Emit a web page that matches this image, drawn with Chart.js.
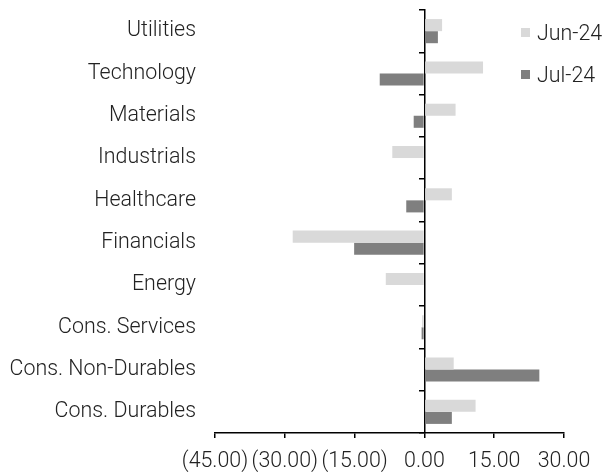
<!DOCTYPE html>
<html>
<head>
<meta charset="utf-8">
<script src="https://cdn.jsdelivr.net/npm/chart.js@4/dist/chart.umd.min.js"></script>
<style>
  html, body { margin: 0; padding: 0; background: #fff; }
  #wrap { position: relative; width: 606px; height: 475px; }
  #legend { position: absolute; left: 521px; top: 11px; font-family: Roboto, "Noto Sans", sans-serif; font-weight: 300; font-size: 21.4px; color: #222; }
  #legend .item { display: flex; align-items: center; height: 42px; }
  #legend .box { width: 9px; height: 9px; margin-right: 7px; }
</style>
</head>
<body>
<div id="wrap">
  <canvas id="c" width="606" height="475"></canvas>
  <div id="legend"></div>
</div>
<script>
const categories = ['Utilities', 'Technology', 'Materials', 'Industrials', 'Healthcare', 'Financials', 'Energy', 'Cons. Services', 'Cons. Non-Durables', 'Cons. Durables'];
const seriesNames = ['Jun-24', 'Jul-24'];
const jun24 = [3.8, 12.6, 6.7, -6.9, 5.9, -28.3, -8.3, -0.5, 6.3, 11.0];
const jul24 = [2.9, -9.6, -2.3, 0.0, -3.9, -15.1, 0.0, -0.6, 24.7, 5.9];
const xTicks = [-45, -30, -15, 0, 15, 30];

const colors = ['#d9d9d9', '#7f7f7f'];
const fontFamily = 'Roboto, "Noto Sans", sans-serif';
const fontSize = 21.4;
const textColor = '#222';

function fmt(v) {
  const s = Math.abs(v).toFixed(2);
  return v < 0 ? '(' + s + ')' : s;
}

// vertical axes: fixed width, no extra label padding at the ends
function fitVertical(width) {
  return (scale) => {
    if (width !== null) scale.width = width;
    scale.paddingTop = 0;
    scale.paddingBottom = 0;
  };
}

const chart = new Chart(document.getElementById('c'), {
  type: 'bar',
  data: {
    labels: categories,
    datasets: [
      { label: seriesNames[0], data: jun24, backgroundColor: colors[0], yAxisID: 'y' },
      { label: seriesNames[1], data: jul24, backgroundColor: colors[1], yAxisID: 'y' }
    ]
  },
  options: {
    indexAxis: 'y',
    responsive: false,
    animation: false,
    layout: { padding: { top: 10, right: 42, left: 0, bottom: 0 } },
    datasets: { bar: { categoryPercentage: 0.57, barPercentage: 1.0 } },
    plugins: { legend: { display: false }, tooltip: { enabled: false } },
    scales: {
      x: {
        min: xTicks[0],
        max: xTicks[xTicks.length - 1],
        afterBuildTicks: (axis) => { axis.ticks = xTicks.map(v => ({ value: v })); },
        afterFit: (scale) => { scale.height = 42; },
        ticks: {
          callback: (v) => fmt(v),
          font: { family: fontFamily, size: fontSize, weight: 300 },
          color: textColor,
          padding: 11,
          maxRotation: 0,
          autoSkip: false
        },
        grid: { drawOnChartArea: false, drawTicks: true, tickLength: 5, color: '#000', lineWidth: 1.5 },
        border: { display: true, color: '#000', width: 1.5 }
      },
      y: {
        position: 'left',
        afterFit: fitVertical(215),
        ticks: {
          font: { family: fontFamily, size: fontSize, weight: 300 },
          color: textColor,
          padding: 19
        },
        grid: { display: false, drawTicks: false },
        border: { display: false }
      },
      y2: {
        type: 'category',
        labels: categories,
        offset: true,
        position: { x: 0 },
        afterFit: fitVertical(null),
        ticks: { display: false },
        grid: { offset: true, drawOnChartArea: false, drawTicks: true, tickLength: 5, color: '#000', lineWidth: 1.5 },
        border: { display: true, color: '#000', width: 1.5 }
      }
    }
  }
});

// legend built from the dataset labels and colours
const legend = document.getElementById('legend');
chart.data.datasets.forEach((ds) => {
  const item = document.createElement('div');
  item.className = 'item';
  const box = document.createElement('span');
  box.className = 'box';
  box.style.background = ds.backgroundColor;
  const txt = document.createElement('span');
  txt.textContent = ds.label;
  item.appendChild(box);
  item.appendChild(txt);
  legend.appendChild(item);
});
</script>
</body>
</html>
